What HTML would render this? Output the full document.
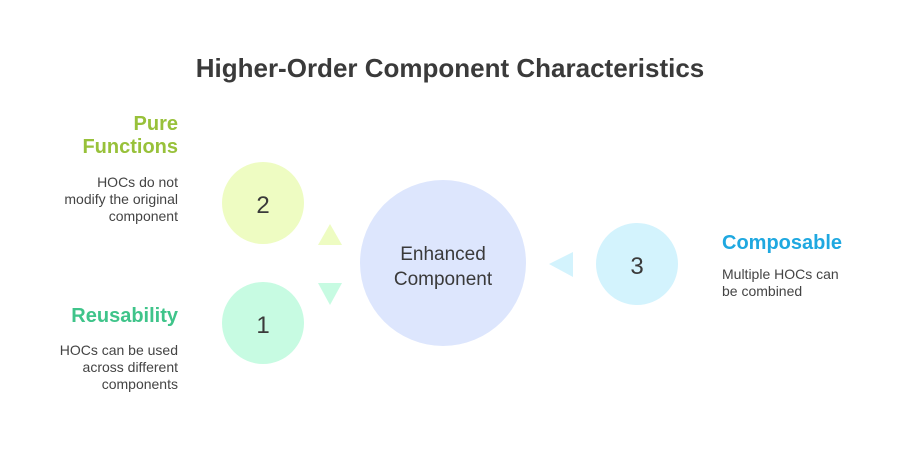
<!DOCTYPE html>
<html><head><meta charset="utf-8"><style>
body{margin:0;background:#fff;}
svg{display:block;font-family:"Liberation Sans",sans-serif;}
</style></head><body>
<svg width="900" height="456" viewBox="0 0 900 456">
<text x="450" y="77" text-anchor="middle" font-size="26" font-weight="bold" fill="#3a3a3a">Higher-Order Component Characteristics</text>
<circle cx="263" cy="203" r="41" fill="#eefcc2"/>
<circle cx="263" cy="323" r="41" fill="#c7fbe2"/>
<circle cx="443" cy="263" r="83" fill="#dde6fd"/>
<circle cx="637" cy="264" r="41" fill="#d3f3fd"/>
<polygon points="330,224 318,245 342,245" fill="#eefcc2"/>
<polygon points="318,283 342,283 330,305" fill="#c7fbe2"/>
<polygon points="549,264 573,252 573,277" fill="#d3f3fd"/>
<text x="263" y="213" text-anchor="middle" font-size="24" fill="#3a3a3a">2</text>
<text x="263" y="333" text-anchor="middle" font-size="24" fill="#3a3a3a">1</text>
<text x="637" y="274" text-anchor="middle" font-size="24" fill="#3a3a3a">3</text>
<text x="443" y="260" text-anchor="middle" font-size="19" fill="#3a3a3a">Enhanced</text>
<text x="443" y="285" text-anchor="middle" font-size="19" fill="#3a3a3a">Component</text>
<g font-weight="bold" font-size="20">
<text x="178" y="130" text-anchor="end" fill="#98c13a">Pure</text>
<text x="178" y="153" text-anchor="end" fill="#98c13a">Functions</text>
<text x="178" y="322" text-anchor="end" fill="#3fc48a">Reusability</text>
<text x="722" y="249" fill="#1fa8e0">Composable</text>
</g>
<g font-size="14" fill="#444">
<text x="178" y="187" text-anchor="end">HOCs do not</text>
<text x="178" y="204" text-anchor="end">modify the original</text>
<text x="178" y="221" text-anchor="end">component</text>
<text x="178" y="355" text-anchor="end">HOCs can be used</text>
<text x="178" y="372" text-anchor="end">across different</text>
<text x="178" y="389" text-anchor="end">components</text>
<text x="722" y="279">Multiple HOCs can</text>
<text x="722" y="296">be combined</text>
</g>
</svg>
</body></html>
